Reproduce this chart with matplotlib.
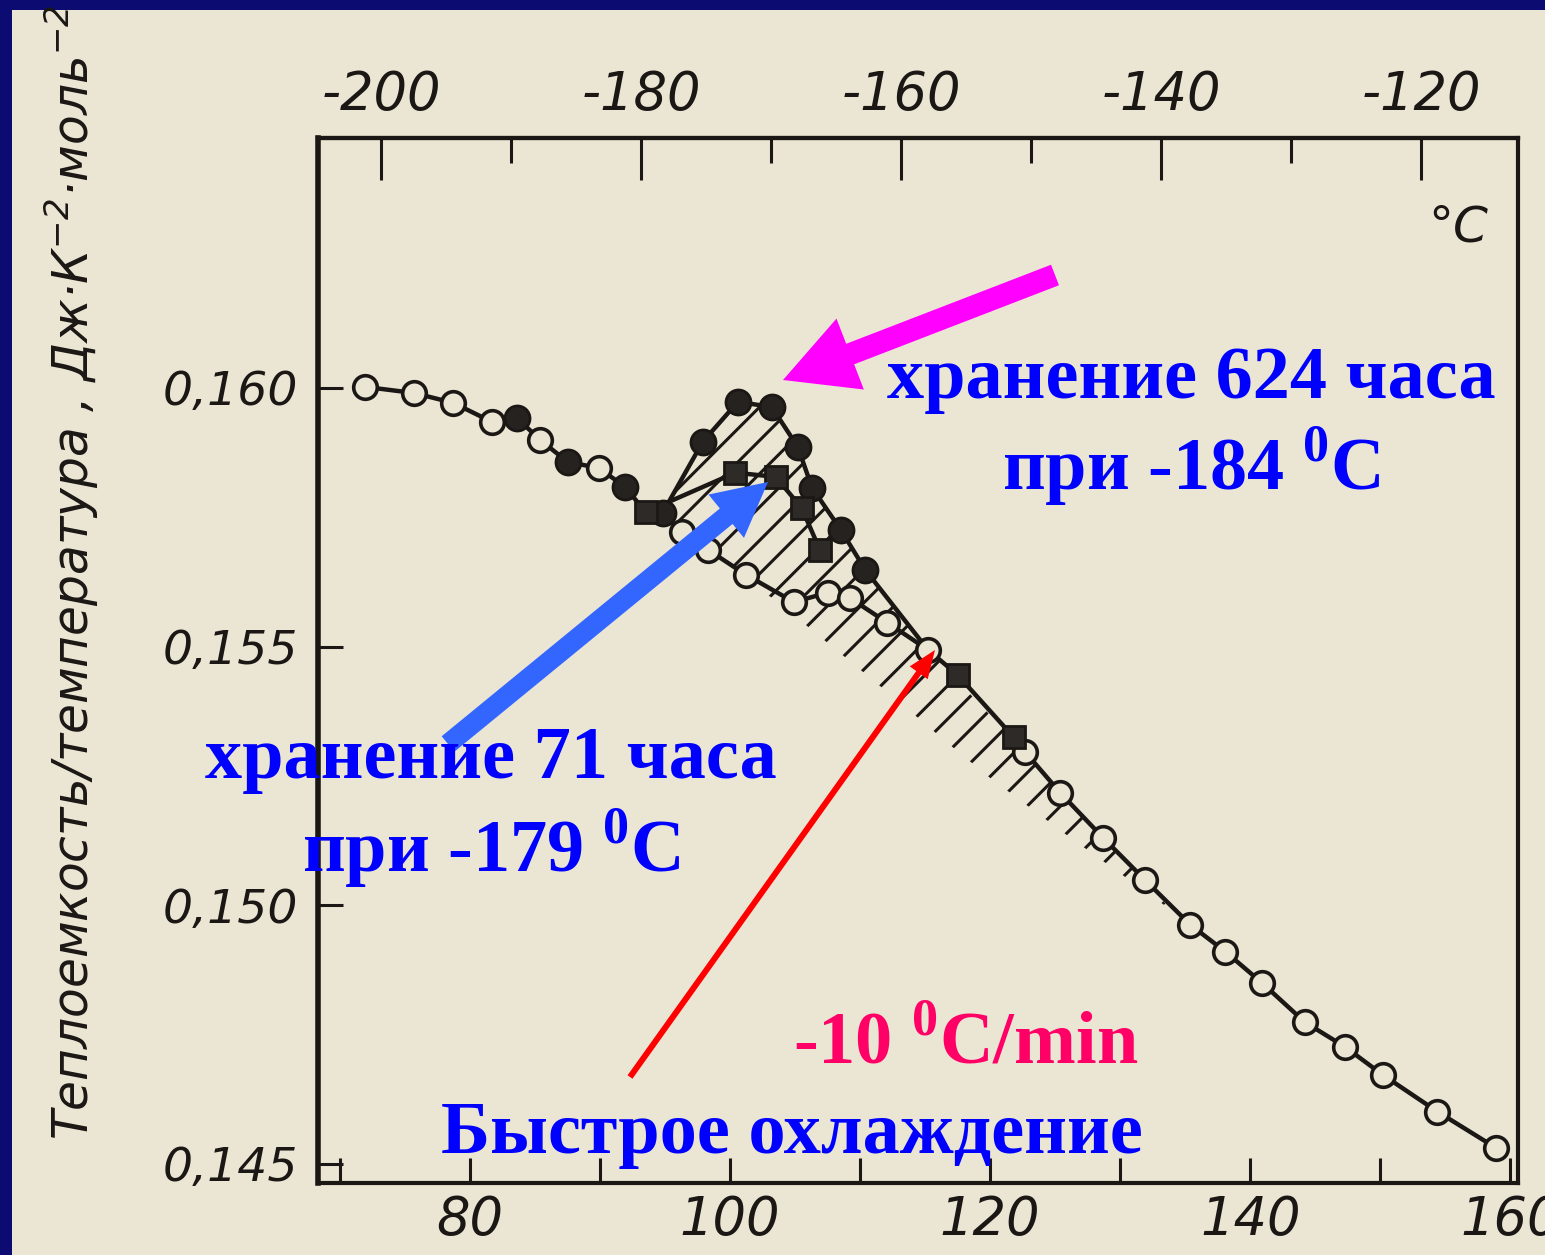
import matplotlib
matplotlib.use('Agg')
from matplotlib import pyplot as plt
from matplotlib.patches import Rectangle, FancyArrowPatch
from matplotlib.ticker import FuncFormatter, FixedLocator
import numpy as np

# быстрое охлаждение, -10 C/min (светлые кружки), T в K
quench_T = [71.9, 75.7, 78.7, 81.7, 85.4, 89.9, 96.3, 98.3, 101.2, 104.9, 107.5,
            109.2, 112.1, 115.2, 122.7, 125.4, 128.7, 131.9, 135.4, 138.1, 140.9,
            144.2, 147.3, 150.2, 154.4, 158.9]
quench_c = [0.16002, 0.15990, 0.15971, 0.15934, 0.15899, 0.15845, 0.15722, 0.15687,
            0.15639, 0.15586, 0.15604, 0.15594, 0.15546, 0.15494, 0.15296, 0.15217,
            0.15130, 0.15049, 0.14962, 0.14910, 0.14850, 0.14774, 0.14726, 0.14672,
            0.14601, 0.14531]

# хранение 624 часа при -184 C (черные кружки)
store624_T = [83.6, 87.5, 91.9, 94.8, 97.9, 100.6, 103.2, 105.2, 106.3, 108.5, 110.4]
store624_c = [0.15942, 0.15857, 0.15809, 0.15758, 0.15896, 0.15973, 0.15963, 0.15886,
              0.15807, 0.15726, 0.15648]

# хранение 71 час при -179 C (черные квадраты)
store71_T = [93.5, 100.4, 103.5, 105.5, 106.9, 117.5, 121.8]
store71_c = [0.15760, 0.15836, 0.15828, 0.15768, 0.15687, 0.15445, 0.15325]

# нижний край заштрихованной полосы
low_T = [101.2, 104.6, 107.7, 110.8, 113.9, 116.9, 120.0, 123.1, 126.2, 129.2, 132.3, 133.9]
low_c = [0.15633, 0.15567, 0.15503, 0.15439, 0.15374, 0.15310, 0.15246, 0.15188,
         0.15130, 0.15076, 0.15020, 0.14991]

# деления осей
k_major = [80, 100, 120, 140, 160]
k_minor = [70, 90, 110, 130, 150]
c_major = [-200, -180, -160, -140, -120]
c_minor = [-190, -170, -150, -130]
y_major = [0.145, 0.150, 0.155, 0.160]

W, H = 1545, 1255
PAPER = '#ebe5d3'
NAVY = '#0b0b72'
INK = '#1a1715'

plt.rcParams['axes.unicode_minus'] = False
plt.rcParams['hatch.linewidth'] = 2.2
TICKFONT = ['DejaVu Sans']
BOLD = ['Liberation Serif', 'DejaVu Serif']
plt.rcParams['mathtext.fontset'] = 'custom'
plt.rcParams['mathtext.rm'] = 'Liberation Serif:bold'

fig = plt.figure(figsize=(W / 100, H / 100), dpi=100)
fig.patch.set_facecolor(NAVY)
fig.add_artist(Rectangle((12 / W, 0), 1 - 12 / W, 1 - 10 / H, transform=fig.transFigure,
                         facecolor=PAPER, edgecolor='none', zorder=0))

ax = fig.add_axes([318 / W, 1 - 1183 / H, (1518 - 318) / W, (1183 - 138) / H])
ax.set_facecolor('none')
ax.set_xlim(68.3, 160.6)
ax.set_ylim(0.14463, 0.16483)

qT, qc = np.array(quench_T), np.array(quench_c)
fT, fc = np.array(store624_T), np.array(store624_c)
sT, sc = np.array(store71_T), np.array(store71_c)

# штриховка между кривыми
up_T = np.concatenate([fT[3:], qT[(qT > 115) & (qT < 133)], [low_T[-1]]])
up_c = np.concatenate([fc[3:], qc[(qT > 115) & (qT < 133)], [low_c[-1]]])
dn_T = np.concatenate([low_T[::-1], qT[(qT > 95) & (qT < 101)][::-1]])
dn_c = np.concatenate([low_c[::-1], qc[(qT > 95) & (qT < 101)][::-1]])
ax.fill(np.concatenate([up_T, dn_T]), np.concatenate([up_c, dn_c]),
        fill=False, hatch='/', edgecolor=INK, linewidth=0, zorder=1)

# общая кривая
mT = np.concatenate([qT, fT[:4], sT[:1], sT[5:]])
mc = np.concatenate([qc, fc[:4], sc[:1], sc[5:]])
order = np.argsort(mT)
ax.plot(mT[order], mc[order], color=INK, lw=3.2, zorder=2)
ax.plot(np.append(fT[3:], qT[13]), np.append(fc[3:], qc[13]), color=INK, lw=3.2, zorder=2)
ax.plot(sT[:5], sc[:5], color=INK, lw=3.2, zorder=2)

ax.plot(qT, qc, 'o', ms=17, mfc=PAPER, mec=INK, mew=2.6, zorder=3)
ax.plot(fT, fc, 'o', ms=18, mfc='#262220', mec=INK, mew=2, zorder=4)
ax.plot(sT, sc, 's', ms=16, mfc='#2e2a28', mec=INK, mew=2, zorder=4)

for s in ax.spines.values():
    s.set_linewidth(3)
    s.set_color(INK)
ax.spines['left'].set_linewidth(4)

ax.xaxis.set_major_locator(FixedLocator(k_major))
ax.xaxis.set_minor_locator(FixedLocator(k_minor))
ax.yaxis.set_major_locator(FixedLocator(y_major))
ax.yaxis.set_major_formatter(FuncFormatter(lambda v, p: f'{v:.3f}'.replace('.', ',')))
ax.tick_params(which='both', direction='in', length=18, width=2.2, color=INK)
ax.tick_params(axis='x', pad=8, labelsize=38)
ax.tick_params(axis='y', pad=14, labelsize=34)
for lab in ax.get_xticklabels() + ax.get_yticklabels():
    lab.set_family(TICKFONT)
    lab.set_style('italic')
    lab.set_color(INK)

top = ax.secondary_xaxis('top', functions=(lambda k: k - 273.15, lambda c: c + 273.15))
top.xaxis.set_major_locator(FixedLocator(c_major))
top.xaxis.set_minor_locator(FixedLocator(c_minor))
top.tick_params(which='major', direction='in', length=30, width=2.2, color=INK, pad=12, labelsize=38)
top.tick_params(which='minor', direction='in', length=18, width=2.2, color=INK)
top.spines['top'].set_linewidth(3)
for lab in top.get_xticklabels():
    lab.set_family(TICKFONT)
    lab.set_style('italic')
    lab.set_color(INK)

fig.text(1458 / W, 1 - 228 / H, '°C', fontsize=36, style='italic', family=TICKFONT,
         color=INK, ha='center', va='center')
fig.text(72 / W, 1 - 1140 / H, 'Теплоемкость/температура , Дж·К$^{\\mathregular{-2}}$·моль$^{\\mathregular{-2}}$',
         rotation=90, fontsize=35, style='italic', family=TICKFONT, color=INK,
         ha='center', va='bottom')


def fin(x, y):
    return (x / 100, (H - y) / 100)


def arrow(x0, y0, x1, y1, tail, hw, hl, color):
    a = FancyArrowPatch(fin(x0, y0), fin(x1, y1), transform=fig.dpi_scale_trans,
                        arrowstyle=f'simple,tail_width={tail * 0.72},head_width={hw * 0.72},head_length={hl * 0.72}',
                        mutation_scale=1, shrinkA=0, shrinkB=0, color=color, lw=0, zorder=10)
    fig.add_artist(a)


arrow(1055, 275, 783, 380, 22, 76, 72, '#ff00ff')
arrow(448, 744, 768, 482, 20, 56, 54, '#3366ff')
arrow(630, 1077, 935, 650, 6, 22, 28, '#ff0000')

txt = dict(fontsize=53.5, weight='bold', family=BOLD, ha='center', va='center', zorder=11)
fig.text(1191 / W, 1 - 380 / H, 'хранение 624 часа', color='#0000ff', **txt)
fig.text(1191 / W, 1 - 466 / H, 'при -184 $^{0}$C', color='#0000ff', **txt)
fig.text(491 / W, 1 - 760 / H, 'хранение 71 часа', color='#0000ff', **txt)
fig.text(491 / W, 1 - 848 / H, 'при -179 $^{0}$C', color='#0000ff', **txt)
fig.text(966 / W, 1 - 1045 / H, '-10 $^{0}$C/min', color='#ff0066', **txt)
fig.text(792 / W, 1 - 1135 / H, 'Быстрое охлаждение', color='#0000ff', **txt)

fig.savefig('out.png', dpi=100, facecolor=NAVY)
